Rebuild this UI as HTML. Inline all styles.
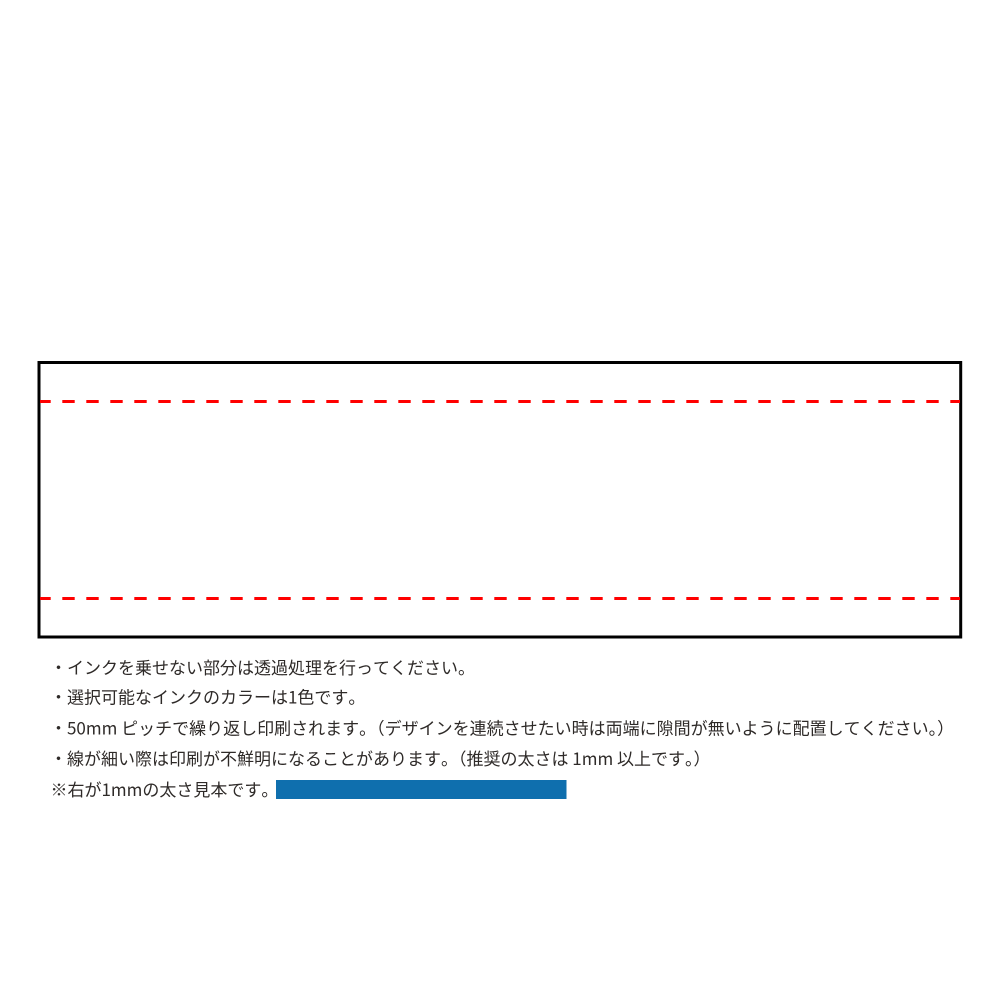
<!DOCTYPE html>
<html lang="ja">
<head>
<meta charset="utf-8">
<style>
html,body{margin:0;padding:0;width:1000px;height:1000px;background:#fff;overflow:hidden}
svg{display:block}
text{font-family:"Noto Sans CJK JP","Liberation Sans",sans-serif;font-size:17px;fill:#2e2a28;font-kerning:none}
</style>
</head>
<body>
<svg width="1000" height="1000" viewBox="0 0 1000 1000" xmlns="http://www.w3.org/2000/svg">
<rect x="39" y="362.5" width="921.7" height="274.5" fill="none" stroke="#000" stroke-width="3"/>
<line x1="40" y1="401.5" x2="960" y2="401.5" stroke="#f00" stroke-width="3" stroke-dasharray="12.4 11.6" stroke-dashoffset="1.7"/>
<line x1="40" y1="598.5" x2="960" y2="598.5" stroke="#f00" stroke-width="3" stroke-dasharray="12.4 11.6" stroke-dashoffset="1.7"/>
<text x="50" y="674">・インクを乗せない部分は透過処理を行ってください。</text>
<text x="50" y="703.5">・選択可能なインクのカラーは1色です。</text>
<text x="50" y="734.5">・50mm ピッチで繰り返し印刷されます。（デザインを連続させたい時は両端に隙間が無いように配置してください。）</text>
<text x="50" y="765">・線が細い際は印刷が不鮮明になることがあります。（推奨の太さは 1mm 以上です。）</text>
<text x="50.5" y="796">※右が1mmの太さ見本です。</text>
<rect x="276" y="780" width="290.5" height="19" fill="#0f6fae"/>
</svg>
</body>
</html>
